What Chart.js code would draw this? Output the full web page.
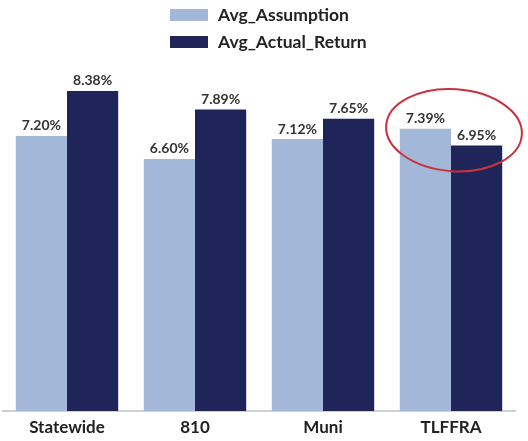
<!DOCTYPE html>
<html>
<head>
<meta charset="utf-8">
<script src="https://cdn.jsdelivr.net/npm/chart.js@4/dist/chart.umd.min.js"></script>
<style>
  body { margin: 0; background: #fff; }
  #wrap { position: relative; width: 528px; height: 441px; }
  #legend { position: absolute; left: 170px; top: 1px; font-family: Lato, "Open Sans", sans-serif; font-weight: bold; font-size: 17.5px; color: #222; }
  .item { display: flex; align-items: center; height: 27px; }
  .swatch { width: 38px; height: 12px; margin-right: 10px; }
</style>
</head>
<body>
<div id="wrap">
  <canvas id="myChart" width="528" height="441"></canvas>
  <div id="legend"></div>
</div>
<script>
const categories = ["Statewide", "810", "Muni", "TLFFRA"];
const avgAssumption = [7.20, 6.60, 7.12, 7.39];
const avgActualReturn = [8.38, 7.89, 7.65, 6.95];
const seriesNames = ["Avg_Assumption", "Avg_Actual_Return"];
const seriesColors = ["#A3B8D9", "#1F2559"];

// html legend, stacked like the original
const legendBox = document.getElementById("legend");
seriesNames.forEach((name, i) => {
  const item = document.createElement("div");
  item.className = "item";
  item.innerHTML = '<span class="swatch" style="background:' + seriesColors[i] + '"></span>' + name;
  legendBox.appendChild(item);
});

const valueLabels = {
  id: "valueLabels",
  afterDatasetsDraw(chart) {
    const ctx = chart.ctx;
    ctx.save();
    ctx.font = "bold 14px Lato, 'Open Sans', sans-serif";
    ctx.fillStyle = "#333";
    ctx.textAlign = "center";
    ctx.textBaseline = "bottom";
    chart.data.datasets.forEach((ds, i) => {
      chart.getDatasetMeta(i).data.forEach((bar, j) => {
        ctx.fillText(ds.data[j].toFixed(2) + "%", bar.x, bar.y - 3);
      });
    });
    ctx.restore();
  },
};

// red circle around the TLFFRA pair
const highlight = {
  id: "highlight",
  afterDraw(chart) {
    const ctx = chart.ctx;
    const x = chart.scales.x.getPixelForValue(3);
    const y = chart.scales.y.getPixelForValue(7.35);
    ctx.save();
    ctx.strokeStyle = "#C8323C";
    ctx.lineWidth = 2;
    ctx.beginPath();
    ctx.ellipse(x + 3, y, 68, 41, 0.07, 0, Math.PI * 2);
    ctx.stroke();
    ctx.restore();
  },
};

new Chart(document.getElementById("myChart").getContext("2d"), {
  type: "bar",
  data: {
    labels: categories,
    datasets: [
      { label: seriesNames[0], data: avgAssumption, backgroundColor: seriesColors[0] },
      { label: seriesNames[1], data: avgActualReturn, backgroundColor: seriesColors[1] },
    ],
  },
  options: {
    responsive: false,
    animation: false,
    categoryPercentage: 0.8,
    barPercentage: 1.0,
    layout: {
      padding: { top: 29, left: 3, right: 13, bottom: 4 },
    },
    plugins: {
      legend: { display: false },
      tooltip: { enabled: false },
    },
    scales: {
      x: {
        grid: { display: false, drawTicks: false },
        border: { color: "#d0d0d0", width: 2 },
        ticks: {
          padding: 6,
          color: "#222",
          font: { family: "Lato, 'Open Sans', sans-serif", weight: "bold", size: 17 },
        },
        afterFit(scale) {
          scale.height = 26;
        },
      },
      y: {
        display: false,
        min: 0,
        max: 10,
      },
    },
  },
  plugins: [valueLabels, highlight],
});
</script>
</body>
</html>
